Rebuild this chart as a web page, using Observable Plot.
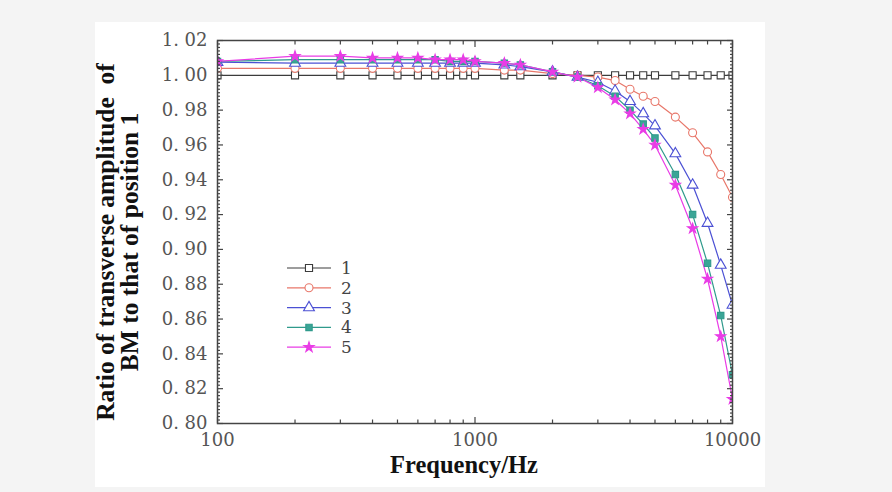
<!DOCTYPE html>
<html><head><meta charset="utf-8">
<script src="https://cdn.jsdelivr.net/npm/d3@7"></script>
<script src="https://cdn.jsdelivr.net/npm/@observablehq/plot@0.6"></script>
<style>
html,body{margin:0;padding:0;background:#f4f4f4;}
#wrap{position:relative;width:892px;height:492px;overflow:hidden;background:#f4f4f4;}
#panel{position:absolute;left:95px;top:22px;width:670px;height:465px;background:#fff;}
#chart{position:absolute;left:0;top:0;}
#legend{position:absolute;left:0;top:0;}
</style></head><body>
<div id="wrap"><div id="panel"></div><div id="chart"></div><svg id="legend" width="892" height="492"></svg></div>
<script>
const frequency = [100,200,300,400,500,600,700,800,900,1000,1300,1500,2000,2500,3000,3500,4000,4500,5000,6000,7000,8000,9000,10000];
const position1 = [1.000,1.000,1.000,1.000,1.000,1.000,1.000,1.000,1.000,1.000,1.000,1.000,1.000,1.000,1.000,1.000,1.000,1.000,1.000,1.000,1.000,1.000,1.000,1.000];
const position2 = [1.004,1.004,1.004,1.004,1.004,1.004,1.004,1.004,1.004,1.004,1.003,1.003,1.001,1.000,0.999,0.997,0.992,0.988,0.985,0.976,0.967,0.956,0.943,0.930];
const position3 = [1.0075,1.007,1.007,1.007,1.007,1.007,1.007,1.007,1.007,1.007,1.006,1.005,1.002,0.999,0.996,0.991,0.985,0.978,0.971,0.955,0.937,0.915,0.891,0.868];
const position4 = [1.008,1.009,1.009,1.009,1.009,1.009,1.009,1.008,1.008,1.008,1.007,1.006,1.002,0.999,0.994,0.988,0.980,0.972,0.964,0.943,0.920,0.892,0.862,0.828];
const position5 = [1.008,1.011,1.011,1.010,1.010,1.010,1.009,1.009,1.009,1.008,1.007,1.006,1.002,0.999,0.993,0.986,0.978,0.969,0.960,0.937,0.912,0.883,0.850,0.814];
const seriesNames = ["1","2","3","4","5"];
const xTickLabels = [100, 1000, 10000];
const yTickLabels = [0.80,0.82,0.84,0.86,0.88,0.90,0.92,0.94,0.96,0.98,1.00,1.02];

const seriesValues = [position1, position2, position3, position4, position5];
const colors = ["#3c3c3c", "#e8776a", "#4b50d4", "#2f9a8c", "#e93ce6"];
const symbols = ["square", "circle", "triangle", "square", "star"];
const radii = [4, 4, 4, 3.6, 3.2];
const fills = ["white", "white", "white", "#3aa596", "#e93ce6"];
const d3symbols = {square: d3.symbolSquare, circle: d3.symbolCircle, triangle: d3.symbolTriangle, star: d3.symbolStar};

const xMinor = [];
for (const dec of [100, 1000]) for (let k = 2; k <= 9; k++) xMinor.push(dec * k);
const yMinor = d3.range(0, 111).map(i => +(0.80 + i * 0.002).toFixed(3)).filter(v => v <= 1.02 && !yTickLabels.some(t => Math.abs(t - v) < 1e-6));

const marks = [];
seriesValues.forEach((vals, i) => {
  const rows = frequency.map((f, j) => ({f, v: vals[j]}));
  marks.push(Plot.line(rows, {x: "f", y: "v", stroke: colors[i], strokeWidth: 1.2, clip: true}));
});
seriesValues.forEach((vals, i) => {
  const rows = frequency.map((f, j) => ({f, v: vals[j]}));
  marks.push(Plot.dot(rows, {x: "f", y: "v", symbol: symbols[i], r: radii[i], stroke: colors[i], fill: fills[i], strokeWidth: 1.1, clip: true}));
});
const tickStyle = {fill: "none", label: null, stroke: "#444", strokeWidth: 1.2};
for (const anchor of ["top", "bottom"]) {
  marks.push(Plot.axisX({anchor, ticks: xTickLabels, tickSize: -6, ...tickStyle}));
  marks.push(Plot.axisX({anchor, ticks: xMinor, tickSize: -3.5, ...tickStyle}));
}
for (const anchor of ["left", "right"]) {
  marks.push(Plot.axisY({anchor, ticks: yTickLabels, tickSize: -6, ...tickStyle}));
  marks.push(Plot.axisY({anchor, ticks: yMinor, tickSize: -3, ...tickStyle}));
}
marks.push(Plot.axisX({anchor: "bottom", ticks: xTickLabels, tickSize: 0, tickPadding: 10, tickFormat: d => String(d), label: null, fill: "#555", fontSize: 18, fontFamily: "DejaVu Serif"}));
marks.push(Plot.axisY({anchor: "left", ticks: yTickLabels, tickSize: 0, tickPadding: 10, tickFormat: d => d.toFixed(2).replace(".", ". "), label: null, fill: "#555", fontSize: 18, fontFamily: "DejaVu Serif"}));
marks.push(Plot.frame({stroke: "#444", strokeWidth: 1.5}));
marks.push(Plot.text(["Ratio of transverse amplitude  of\nBM to that of position 1"], {frameAnchor: "left", textAnchor: "middle", rotate: -90, dx: -99, dy: 10, fontSize: 25.5, fontWeight: "bold", fontFamily: "Liberation Serif", lineHeight: 0.95, fill: "#111"}));
marks.push(Plot.text(["Frequency/Hz"], {frameAnchor: "bottom", dy: 49, dx: -11, fontSize: 24.5, fontWeight: "bold", fontFamily: "Liberation Serif", fill: "#111"}));

const chart = Plot.plot({
  width: 892, height: 492,
  marginLeft: 217, marginRight: 160, marginTop: 40, marginBottom: 69,
  style: {background: "transparent", overflow: "visible"},
  x: {type: "log", domain: [100, 10000]},
  y: {domain: [0.80, 1.02]},
  marks
});
document.getElementById("chart").appendChild(chart);

// legend
const lg = d3.select("#legend");
seriesNames.forEach((name, i) => {
  const y = 268 + i * 19.8;
  lg.append("line").attr("x1", 287).attr("x2", 331).attr("y1", y).attr("y2", y).attr("stroke", colors[i]).attr("stroke-width", 1.2);
  const r = radii[i];
  lg.append("path").attr("d", d3.symbol(d3symbols[symbols[i]], Math.PI * r * r)()).attr("transform", `translate(309,${y})`)
    .attr("stroke", colors[i]).attr("fill", fills[i]).attr("stroke-width", 1.1);
  lg.append("text").attr("x", 341).attr("y", y).attr("dy", "0.35em").attr("font-family", "DejaVu Serif").attr("font-size", 17).attr("fill", "#444").text(name);
});
</script>
</body></html>
